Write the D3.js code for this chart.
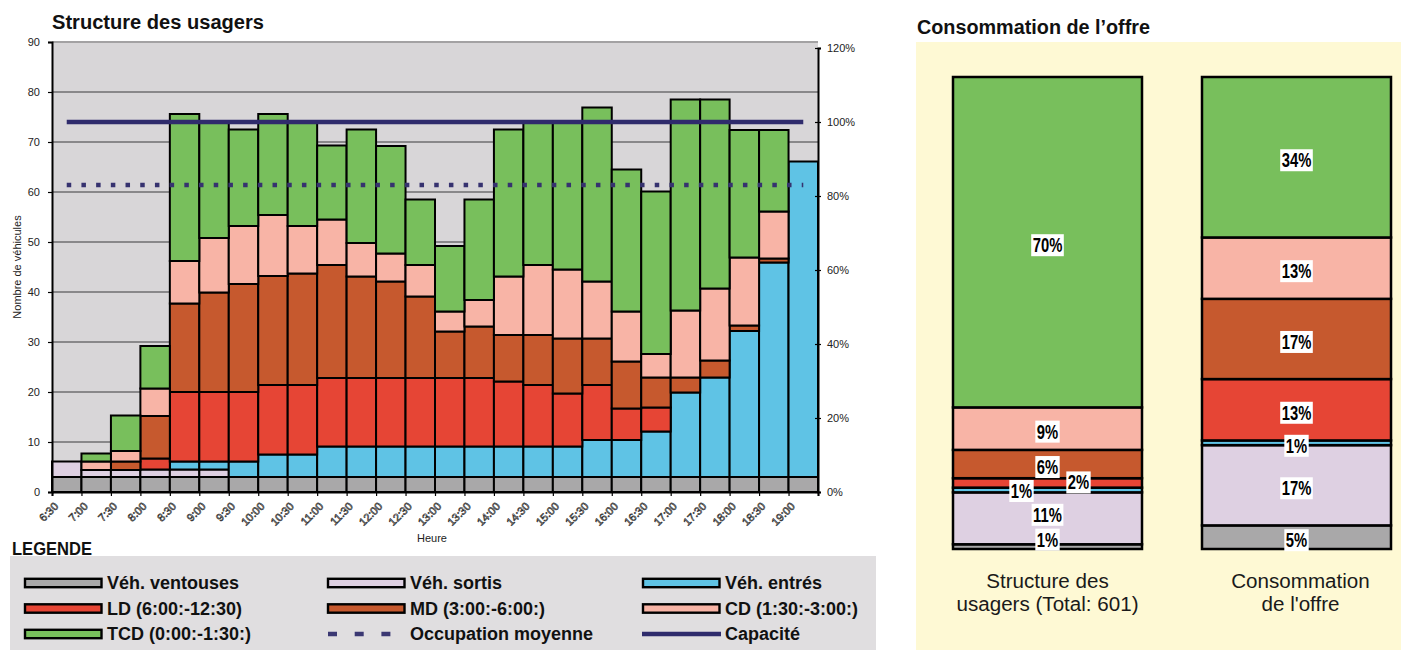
<!DOCTYPE html>
<html>
<head>
<meta charset="utf-8">
<script src="https://cdnjs.cloudflare.com/ajax/libs/d3/7.8.5/d3.min.js"></script>
<style>
  html, body { margin: 0; padding: 0; background: #fff; }
  svg { display: block; }
  text { font-family: "Liberation Sans", Arial, Helvetica, sans-serif; }
</style>
</head>
<body>
<svg id="chart" width="1401" height="650"></svg>
<script>
// ---- Data: vehicles present per half hour, stacked by user category ----
const categories = ["6:30","7:00","7:30","8:00","8:30","9:00","9:30","10:00","10:30","11:00","11:30","12:00","12:30",
                    "13:00","13:30","14:00","14:30","15:00","15:30","16:00","16:30","17:00","17:30","18:00","18:30","19:00"];

const vehVentouses = [3,3,3,3,3,3,3,3,3,3,3,3,3,3,3,3,3,3,3,3,3,3,3,3,3,3];
const vehSortis    = [3.1,1.4,1.4,1.5,1.5,1.5,0,0,0,0,0,0,0,0,0,0,0,0,0,0,0,0,0,0,0,0];
const vehEntres    = [0,0,0,0,1.6,1.6,3.1,4.5,4.5,6.1,6.1,6.1,6.1,6.1,6.1,6.1,6.1,6.1,7.4,7.4,9.1,16.9,19.9,29.2,42.9,63.1];
const ld           = [0,0,0,2.2,13.9,13.9,13.9,13.9,13.9,13.7,13.7,13.7,13.7,13.7,13.7,13.0,12.3,10.6,11.0,6.3,4.8,0,0,0,0,0];
const md           = [0,0,1.7,8.5,17.7,19.9,21.6,21.8,22.3,22.6,20.3,19.3,16.3,9.3,10.3,9.3,10.0,11.0,9.3,9.4,6.0,3.0,3.4,1.1,0.8,0];
const cd           = [0,1.7,2.1,5.5,8.5,10.9,11.6,12.2,9.5,9.1,6.7,5.6,6.3,4.0,5.3,11.7,14.0,13.8,11.4,10.0,4.7,13.4,14.4,13.6,9.4,0];
const tcd          = [0,1.6,7.1,8.5,29.4,23.4,19.3,20.2,21.0,14.8,22.7,21.5,13.1,13.1,20.1,29.4,28.8,29.7,34.8,28.4,32.5,42.2,37.8,25.5,16.3,0];

// Reference levels on the secondary (percentage) axis
const capaciteTaux = 1.0;
const occupationMoyenne = 0.83;

const leftTicks  = [0,10,20,30,40,50,60,70,80,90];
const rightTicks = [0,0.2,0.4,0.6,0.8,1.0,1.2];

const seriesKeys   = ["ventouses","sortis","entres","ld","md","cd","tcd"];
const seriesLabels = ["Véh. ventouses","Véh. sortis","Véh. entrés","LD (6:00:-12:30)","MD (3:00:-6:00:)","CD (1:30:-3:00:)","TCD (0:00:-1:30:)"];
const seriesColors = ["#a9a8a9","#ded0e2","#5fc3e5","#e64535","#c6592e","#f8b4a6","#78bf5c"];

// Summary stacks (percent of total)
const summaryCaptions   = [["Structure des","usagers (Total: 601)"],["Consommation","de l'offre"]];
const structurePct      = [1,11,1,2,6,9,70];
const consommationPct   = [5,17,1,13,17,13,34];

// ---- Drawing ----
const svg = d3.select("#chart");
const navy = "#2f2b6c";

// Titles
svg.append("text").attr("x", 52).attr("y", 29)
  .attr("font-size", 20).attr("font-weight", "bold").attr("fill", "#111")
  .attr("textLength", 212).attr("lengthAdjust", "spacingAndGlyphs")
  .text("Structure des usagers");

svg.append("text").attr("x", 917).attr("y", 34)
  .attr("font-size", 20).attr("font-weight", "bold").attr("fill", "#111")
  .attr("textLength", 233).attr("lengthAdjust", "spacingAndGlyphs")
  .text("Consommation de l\u2019offre");

// Main chart frame
const plot = { left: 52, right: 818, top: 42, bottom: 492 };

const x = d3.scaleBand().domain(categories).range([plot.left, plot.right]).padding(0);
const xEdge = d3.scaleLinear().domain([0, categories.length]).range([plot.left, plot.right]);
const yL = d3.scaleLinear().domain([0, 90]).range([plot.bottom, plot.top]);
const yR = d3.scaleLinear().domain([0, 1.2]).range([plot.bottom, 48]);

svg.append("rect")
  .attr("x", plot.left).attr("y", plot.top)
  .attr("width", plot.right - plot.left).attr("height", plot.bottom - plot.top)
  .attr("fill", "#d8d6d8");

// Horizontal gridlines
svg.append("g").selectAll("line")
  .data(leftTicks.filter(t => t > 0))
  .join("line")
  .attr("x1", plot.left).attr("x2", plot.right)
  .attr("y1", d => yL(d)).attr("y2", d => yL(d))
  .attr("stroke", d => d === 90 ? "#a3a2a3" : "#6f6e70")
  .attr("stroke-width", d => d === 90 ? 2 : 1.4);

// Stacked bars
const table = categories.map((c, i) => ({
  cat: c,
  ventouses: vehVentouses[i], sortis: vehSortis[i], entres: vehEntres[i],
  ld: ld[i], md: md[i], cd: cd[i], tcd: tcd[i]
}));
const stacked = d3.stack().keys(seriesKeys)(table);

svg.append("g").selectAll("g")
  .data(stacked)
  .join("g")
  .attr("fill", (d, i) => seriesColors[i])
  .selectAll("rect")
  .data(d => d.filter(s => s[1] - s[0] > 0))
  .join("rect")
  .attr("x", d => x(d.data.cat))
  .attr("y", d => yL(d[1]))
  .attr("width", x.bandwidth())
  .attr("height", d => yL(d[0]) - yL(d[1]))
  .attr("stroke", "#000")
  .attr("stroke-width", 2);

// Capacity and average occupancy lines (secondary axis)
const lineGen = d3.line().x(d => x(d.cat) + x.bandwidth() / 2).y(d => yR(d.v));

svg.append("path")
  .datum(categories.map(c => ({ cat: c, v: occupationMoyenne })))
  .attr("d", lineGen)
  .attr("fill", "none").attr("stroke", "#36326f")
  .attr("stroke-width", 4.5).attr("stroke-dasharray", "4.5,10.2");

svg.append("path")
  .datum(categories.map(c => ({ cat: c, v: capaciteTaux })))
  .attr("d", lineGen)
  .attr("fill", "none").attr("stroke", navy)
  .attr("stroke-width", 4.5);

// Left axis
const axL = svg.append("g").attr("transform", `translate(${plot.left},0)`)
  .call(d3.axisLeft(yL).tickValues(leftTicks).tickSize(4).tickPadding(8));
axL.select(".domain").attr("stroke", "#000").attr("stroke-width", 2);
axL.selectAll(".tick line").attr("stroke", "#000").attr("stroke-width", 1.2);
axL.selectAll(".tick text").attr("font-size", 11).attr("fill", "#222")
  .attr("font-family", "'Liberation Sans', Arial, sans-serif");

// Right axis
const axR = svg.append("g").attr("transform", `translate(${plot.right},0)`)
  .call(d3.axisRight(yR).tickValues(rightTicks).tickSize(3).tickPadding(6)
    .tickFormat(d => Math.round(d * 100) + "%"));
axR.select(".domain").attr("stroke", "#000").attr("stroke-width", 2);
axR.selectAll(".tick line").attr("x1", -3).attr("stroke", "#000").attr("stroke-width", 1.2);
axR.selectAll(".tick text").attr("font-size", 11).attr("fill", "#222")
  .attr("font-family", "'Liberation Sans', Arial, sans-serif");

// Bottom axis: ticks on band edges, rotated labels
const axB = svg.append("g").attr("transform", `translate(0,${plot.bottom})`)
  .call(d3.axisBottom(xEdge).ticks(categories.length).tickSize(4).tickFormat(""));
axB.select(".domain").attr("stroke", "#000").attr("stroke-width", 2);
axB.selectAll(".tick line").attr("stroke", "#000").attr("stroke-width", 1.2);

svg.append("g").selectAll("text")
  .data(categories)
  .join("text")
  .attr("transform", (d, i) => `translate(${xEdge(i) + 7},${507}) rotate(-45)`)
  .attr("text-anchor", "end")
  .attr("font-size", 11)
  .attr("fill", "#fff").attr("stroke", "#222").attr("stroke-width", 0.6)
  .text(d => d);

svg.append("text").attr("x", 432).attr("y", 542)
  .attr("text-anchor", "middle").attr("font-size", 11).attr("fill", "#222")
  .text("Heure");

svg.append("text")
  .attr("transform", "translate(20.5,267) rotate(-90)")
  .attr("text-anchor", "middle").attr("font-size", 11).attr("fill", "#222")
  .text("Nombre de véhicules");

// Legend
svg.append("text").attr("x", 12).attr("y", 555)
  .attr("font-size", 18).attr("font-weight", "bold").attr("fill", "#111")
  .attr("textLength", 80).attr("lengthAdjust", "spacingAndGlyphs")
  .text("LEGENDE");

svg.append("rect").attr("x", 10).attr("y", 556).attr("width", 866).attr("height", 94)
  .attr("fill", "#e0dee0");

const legendItems = seriesLabels.map((label, i) => ({ label, type: "bar", color: seriesColors[i] }));
legendItems.splice(7, 0,
  { label: "Occupation moyenne", type: "dash" },
  { label: "Capacité", type: "line" });

const colX = [25, 328, 643];
const rowY = [583, 608.5, 634];

const lg = svg.append("g").selectAll("g")
  .data(legendItems)
  .join("g")
  .attr("transform", (d, i) => `translate(${colX[i % 3]},${rowY[Math.floor(i / 3)]})`);

lg.filter(d => d.type === "bar").append("rect")
  .attr("x", 0).attr("y", -4.2).attr("width", 76.5).attr("height", 8.4)
  .attr("fill", d => d.color).attr("stroke", "#000").attr("stroke-width", 2.4);

lg.filter(d => d.type === "line").append("line")
  .attr("x1", -1).attr("x2", 78).attr("y1", 0).attr("y2", 0)
  .attr("stroke", navy).attr("stroke-width", 4.5);

lg.filter(d => d.type === "dash").append("line")
  .attr("x1", 0).attr("x2", 78).attr("y1", 0).attr("y2", 0)
  .attr("stroke", "#3b3873").attr("stroke-width", 4.5).attr("stroke-dasharray", "9,17.7");

lg.append("text")
  .attr("x", 82).attr("y", 6)
  .attr("font-size", 18).attr("font-weight", "bold").attr("fill", "#111")
  .text(d => d.label);

// ---- Summary panel ----
svg.append("rect").attr("x", 916).attr("y", 42).attr("width", 485).attr("height", 608)
  .attr("fill", "#fef9d4");

const summaries = [structurePct, consommationPct];
const xs = d3.scaleBand().domain([0, 1]).range([953, 1391]).paddingInner(60 / 249).paddingOuter(0);
const yP = d3.scaleLinear().domain([0, 100]).range([549, 77]);

// Manual nudges for labels of thin segments, keyed "bar-segment"
const labelNudge = { "0-0": [0, -10], "0-1": [0, -6.5], "0-2": [-26, -2], "0-3": [31, -3.5] };

summaries.forEach((pcts, b) => {
  const cum = d3.cumsum(pcts);
  const segs = pcts.map((v, i) => ({ v, y0: cum[i] - v, y1: cum[i], i }));
  const g = svg.append("g");
  g.selectAll("rect").data(segs).join("rect")
    .attr("x", xs(b)).attr("width", xs.bandwidth())
    .attr("y", d => yP(d.y1)).attr("height", d => yP(d.y0) - yP(d.y1))
    .attr("fill", d => seriesColors[d.i])
    .attr("stroke", "#000").attr("stroke-width", 2.5);

  segs.forEach(d => {
    const nudge = labelNudge[`${b}-${d.i}`] || [0, 0];
    const cx = xs(b) + xs.bandwidth() / 2 + nudge[0];
    const cy = (yP(d.y0) + yP(d.y1)) / 2 + 3 + nudge[1];
    const lab = g.append("g").attr("transform", `translate(${cx},${cy})`);
    const box = lab.append("rect").attr("fill", "#fff");
    const t = lab.append("text")
      .attr("text-anchor", "middle").attr("y", 7)
      .attr("font-size", 20).attr("font-weight", "bold").attr("fill", "#000")
      .attr("transform", "scale(0.74,1)")
      .text(d.v + "%");
    const w = t.node().getComputedTextLength() * 0.74 + 3;
    box.attr("x", -w / 2).attr("y", -11).attr("width", w).attr("height", 22);
  });

  // Two-line caption under each stack
  const cap = svg.append("text")
    .attr("transform", `translate(${xs(b) + xs.bandwidth() / 2 + (b ? 4 : 0)},0) scale(1.03,1)`)
    .attr("text-anchor", "middle").attr("font-size", 20).attr("fill", "#1a1a1a");
  cap.selectAll("tspan").data(summaryCaptions[b]).join("tspan")
    .attr("x", 0).attr("y", (d, i) => 588 + i * 23.5)
    .text(d => d);
});
</script>
</body>
</html>
